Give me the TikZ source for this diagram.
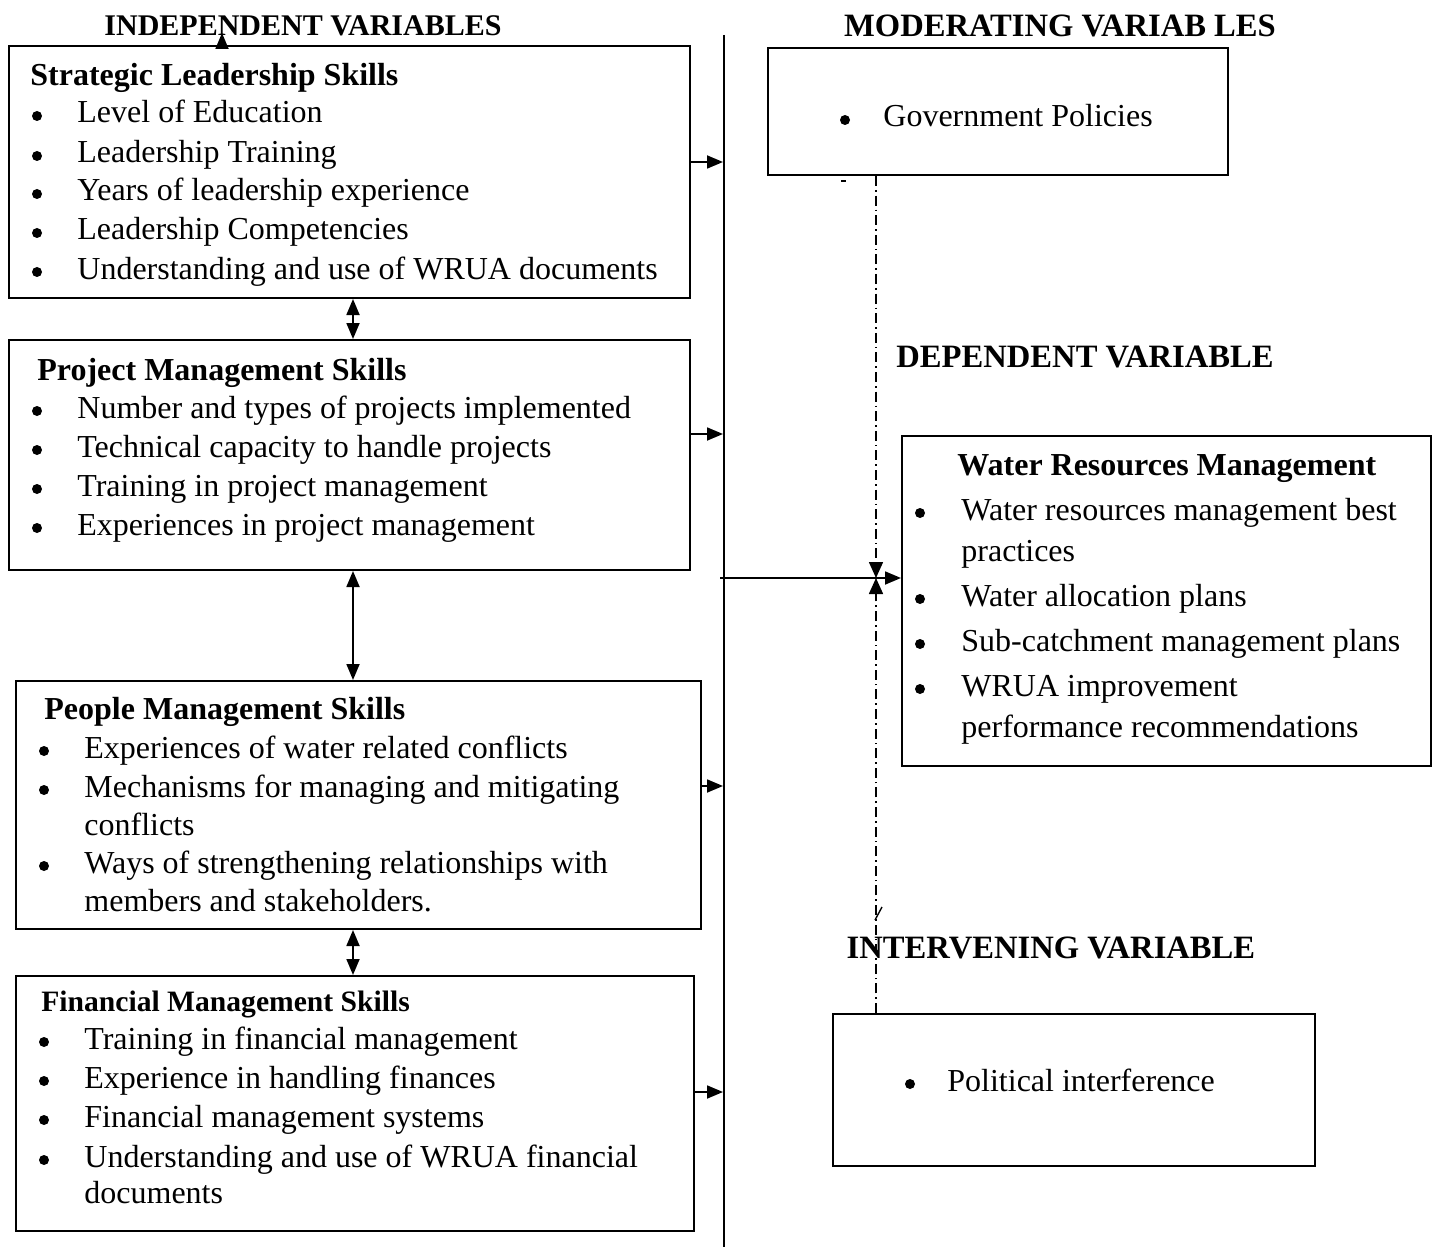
\documentclass[tikz,border=0pt]{standalone}
\usepackage{fontspec}
\setmainfont{Liberation Serif}
\usetikzlibrary{arrows.meta}
\begin{document}
\begin{tikzpicture}[x=0.5pt,y=-0.5pt,
  box/.style={draw,line width=1pt,inner sep=0,anchor=north west},
  txt/.style={anchor=base west,inner sep=0,font=\fontsize{16}{19}\selectfont},
  ttl/.style={anchor=base west,inner sep=0,font=\fontsize{16}{19}\selectfont\bfseries},
  ttlsm/.style={anchor=base west,inner sep=0,font=\fontsize{14.8}{18}\selectfont\bfseries},
  hdr/.style={anchor=base,inner sep=0,font=\fontsize{15}{18}\selectfont\bfseries},
  hdrr/.style={anchor=base,inner sep=0,font=\fontsize{16.3}{19}\selectfont\bfseries},
  bul/.style={circle,fill,inner sep=0,minimum size=5pt},
  arr/.style={line width=0.9pt,-{Triangle[length=8pt,width=6.5pt]}},
  darr/.style={line width=0.9pt,{Triangle[length=8pt,width=6.5pt]}-{Triangle[length=8pt,width=6.5pt]}},
  dd/.style={line width=0.8pt,dash pattern=on 5pt off 2pt on 0.8pt off 2pt}]
\useasboundingbox (0,0) rectangle (1437,1247);
% boxes
\node[box,minimum width=340.5pt,minimum height=126pt] (b1) at (8,45) {};
\node[box,minimum width=340.5pt,minimum height=115pt] (b2) at (8,339) {};
\node[box,minimum width=342.5pt,minimum height=124pt] (b3) at (15,680) {};
\node[box,minimum width=339pt,minimum height=127.5pt] (b4) at (15,975) {};
\node[box,minimum width=230pt,minimum height=63.5pt] (gov) at (767,47) {};
\node[box,minimum width=264.5pt,minimum height=165pt] (wat) at (901,435) {};
\node[box,minimum width=241pt,minimum height=76pt] (pol) at (832,1013) {};
% headers
\node[hdr] (h1) at (303,36) {INDEPENDENT VARIABLES};
\node[hdrr] (h2) at (1060,37) {MODERATING VARIAB LES};
\node[hdrr] (h3) at (1085,367) {DEPENDENT VARIABLE};
\node[hdrr] (h4) at (1051,958) {INTERVENING VARIABLE};
% box 1
\node[ttl] (t1) at (30,86) {Strategic Leadership Skills};
\node[bul] (p11) at (37,116) {}; \node[txt] (l11) at (77,123) {Level of Education};
\node[bul] (p12) at (37,156) {}; \node[txt] (l12) at (77,163) {Leadership Training};
\node[bul] (p13) at (37,194) {}; \node[txt] (l13) at (77,201) {Years of leadership experience};
\node[bul] (p14) at (37,233) {}; \node[txt] (l14) at (77,240) {Leadership Competencies};
\node[bul] (p15) at (37,272) {}; \node[txt] (l15) at (77,279) {Understanding and use of WRUA documents};
% box 2
\node[ttl] (t2) at (37,380) {Project Management Skills};
\node[bul] (p21) at (37,411) {}; \node[txt] (l21) at (77,418) {Number and types of projects implemented};
\node[bul] (p22) at (37,450) {}; \node[txt] (l22) at (77,457) {Technical capacity to handle projects};
\node[bul] (p23) at (37,489) {}; \node[txt] (l23) at (77,496) {Training in project management};
\node[bul] (p24) at (37,528) {}; \node[txt] (l24) at (77,535) {Experiences in project management};
% box 3
\node[ttl] (t3) at (44,719) {People Management Skills};
\node[bul] (p31) at (44,751) {}; \node[txt] (l31) at (84,758) {Experiences of water related conflicts};
\node[bul] (p32) at (44,790) {}; \node[txt] (l32) at (84,797) {Mechanisms for managing and mitigating};
\node[txt] (l33) at (84,835) {conflicts};
\node[bul] (p34) at (44,866) {}; \node[txt] (l34) at (84,873) {Ways of strengthening relationships with};
\node[txt] (l35) at (84,911) {members and stakeholders.};
% box 4
\node[ttlsm] (t4) at (41,1011) {Financial Management Skills};
\node[bul] (p41) at (44,1042) {}; \node[txt] (l41) at (84,1049) {Training in financial management};
\node[bul] (p42) at (44,1081) {}; \node[txt] (l42) at (84,1088) {Experience in handling finances};
\node[bul] (p43) at (44,1120) {}; \node[txt] (l43) at (84,1127) {Financial management systems};
\node[bul] (p44) at (44,1160) {}; \node[txt] (l44) at (84,1167) {Understanding and use of WRUA financial};
\node[txt] (l45) at (84,1203) {documents};
% gov
\node[bul] (pg) at (845,120) {}; \node[txt] (lg) at (883,127) {Government Policies};
% water
\node[ttl] (tw) at (957,475) {Water Resources Management};
\node[bul] (pw1) at (920,513) {}; \node[txt] (lw1) at (961,520) {Water resources management best};
\node[txt] (lw2) at (961,561) {practices};
\node[bul] (pw3) at (920,599) {}; \node[txt] (lw3) at (961,606) {Water allocation plans};
\node[bul] (pw4) at (920,644) {}; \node[txt] (lw4) at (961,651) {Sub-catchment management plans};
\node[bul] (pw5) at (920,689) {}; \node[txt] (lw5) at (961,696) {WRUA improvement};
\node[txt] (lw6) at (961,737) {performance recommendations};
% political
\node[bul] (pp) at (910,1084) {}; \node[txt] (lp) at (947,1091) {Political interference};
% vertical line
\coordinate (vt) at (724,35);
\coordinate (vb) at (724,1247);
\draw[line width=1pt] (vt) -- (vb);
% arrows into line
\coordinate (a1) at (723,162);
\coordinate (a2) at (723,434);
\coordinate (a3) at (723,786);
\coordinate (a4) at (723,1092);
\draw[arr] (b1.east |- a1) -- (a1);
\draw[arr] (b2.east |- a2) -- (a2);
\draw[arr] (b3.east |- a3) -- (a3);
\draw[arr] (b4.east |- a4) -- (a4);
% double arrows
\coordinate (dx) at (353,0);
\draw[darr] (b1.south -| dx) -- (b2.north -| dx);
\draw[darr] (b2.south -| dx) -- (b3.north -| dx);
\draw[darr] (b3.south -| dx) -- (b4.north -| dx);
% small arrow tip on top of box 1
\coordinate (up) at (222,33);
\draw[arr] (b1.north -| up) -- (up);
% dash-dot line and junction
\coordinate (ddx) at (876,0);
\coordinate (jn) at (876,578);
\draw[dd,-{Triangle[length=8pt,width=7pt]}] (gov.south -| ddx) -- (jn);
\draw[dd,-{Triangle[length=8pt,width=7pt]}] (pol.north -| ddx) -- (jn);
\coordinate (hs) at (720,578);
\draw[arr] (hs) -- (wat.west |- hs);
% stray marks
\coordinate (m1) at (841,181); \coordinate (m2) at (846,181);
\draw[line width=0.8pt] (m1) -- (m2);
\coordinate (k1) at (875,920); \coordinate (k2) at (882,907);
\draw[line width=0.7pt] (k1) -- (k2);
\end{tikzpicture}
\end{document}
